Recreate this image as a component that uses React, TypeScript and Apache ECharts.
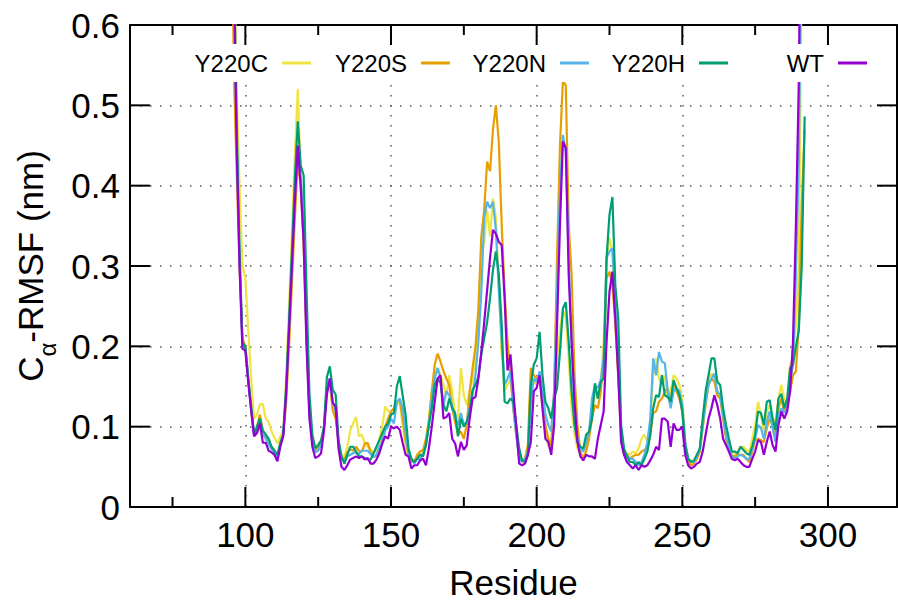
import React, { useEffect, useRef } from "react";
import * as echarts from "echarts";

// Residue numbers start here and advance by one per value
const residueStart = 95;

// C-alpha RMSF (nm) per residue, 95..292
const y220c = [
  0.95, 0.72, 0.52, 0.40, 0.30, 0.285, 0.22, 0.16, 0.11, 0.115, 0.128, 0.128, 0.11, 0.106, 0.094, 0.086, 0.079, 0.088, 0.095,
  0.16, 0.25, 0.34, 0.44, 0.52, 0.41, 0.33, 0.21, 0.12, 0.085,
  0.075, 0.078, 0.082, 0.10, 0.15, 0.155, 0.125, 0.12, 0.08, 0.065, 0.062, 0.075, 0.095, 0.104, 0.112, 0.088, 0.09, 0.079, 0.075, 0.072, 0.067, 0.071, 0.085, 0.10, 0.125, 0.12, 0.117, 0.115, 0.127, 0.131,
  0.102, 0.077, 0.063, 0.06, 0.056, 0.063, 0.065, 0.067, 0.081, 0.11, 0.144, 0.164, 0.173, 0.164, 0.152, 0.139, 0.164, 0.144, 0.115, 0.11, 0.173, 0.139, 0.127, 0.144, 0.16, 0.185, 0.235, 0.31, 0.33, 0.37, 0.337, 0.384, 0.36, 0.28, 0.19, 0.144, 0.152, 0.16, 0.123, 0.09, 0.063, 0.056, 0.06, 0.077,
  0.164, 0.156, 0.152, 0.16, 0.123, 0.09, 0.077, 0.073, 0.123, 0.185, 0.22, 0.245, 0.235, 0.185, 0.123, 0.09, 0.073, 0.065, 0.06, 0.077, 0.09, 0.123, 0.144, 0.135, 0.152, 0.206, 0.31, 0.335, 0.318, 0.247, 0.185, 0.09, 0.069, 0.067, 0.065, 0.069, 0.067, 0.073, 0.085, 0.09, 0.081, 0.102, 0.164, 0.185, 0.16, 0.152, 0.164, 0.135, 0.144, 0.164, 0.16, 0.152,
  0.135, 0.081, 0.06, 0.058, 0.056, 0.06, 0.069, 0.106, 0.139, 0.16, 0.166, 0.16, 0.144, 0.139, 0.115, 0.09, 0.073, 0.065, 0.065, 0.069, 0.075, 0.075, 0.071, 0.069, 0.085, 0.102, 0.131, 0.115, 0.094, 0.119, 0.127, 0.11, 0.106, 0.135, 0.152, 0.135, 0.127, 0.177, 0.185, 0.227, 0.30, 0.68, 0.95,
];

const y220s = [
  0.9, 0.55, 0.42, 0.30, 0.21, 0.20, 0.16, 0.12, 0.09, 0.10, 0.115, 0.095, 0.09, 0.08, 0.075, 0.07, 0.063, 0.078, 0.09,
  0.13, 0.20, 0.28, 0.36, 0.43, 0.40, 0.33, 0.21, 0.115, 0.08,
  0.07, 0.073, 0.08, 0.10, 0.15, 0.155, 0.12, 0.11, 0.08, 0.062, 0.058, 0.068, 0.072, 0.07, 0.075, 0.07, 0.069, 0.079, 0.08, 0.068, 0.062, 0.064, 0.07, 0.085, 0.10, 0.11, 0.119, 0.123, 0.131, 0.133,
  0.11, 0.085, 0.065, 0.056, 0.056, 0.065, 0.069, 0.071, 0.085, 0.106, 0.144, 0.177, 0.191, 0.181, 0.169, 0.16, 0.152, 0.123, 0.106, 0.09, 0.094, 0.085, 0.102, 0.144, 0.173, 0.20, 0.247, 0.337, 0.37, 0.43, 0.418, 0.47, 0.50, 0.455, 0.351, 0.268, 0.206, 0.164, 0.123, 0.09, 0.065, 0.058, 0.06, 0.077,
  0.173, 0.164, 0.16, 0.16, 0.131, 0.102, 0.085, 0.077, 0.144, 0.31, 0.45, 0.53, 0.525, 0.351, 0.289, 0.164, 0.102, 0.069, 0.06, 0.069, 0.085, 0.11, 0.127, 0.123, 0.144, 0.185, 0.285, 0.293, 0.276, 0.227, 0.164, 0.085, 0.065, 0.065, 0.06, 0.063, 0.065, 0.065, 0.069, 0.071, 0.073, 0.09, 0.117, 0.119, 0.131, 0.135, 0.144, 0.148, 0.127, 0.156, 0.144, 0.135,
  0.119, 0.073, 0.056, 0.052, 0.054, 0.06, 0.069, 0.098, 0.127, 0.152, 0.16, 0.156, 0.139, 0.135, 0.11, 0.085, 0.071, 0.063, 0.063, 0.065, 0.065, 0.065, 0.06, 0.056, 0.069, 0.083, 0.085, 0.083, 0.081, 0.098, 0.11, 0.102, 0.09, 0.123, 0.135, 0.119, 0.131, 0.144, 0.164, 0.169, 0.227, 0.376, 0.47,
];

const y220n = [
  0.95, 0.66, 0.46, 0.31, 0.20, 0.198, 0.158, 0.122, 0.09, 0.095, 0.108, 0.09, 0.085, 0.078, 0.072, 0.068, 0.062, 0.077, 0.09,
  0.145, 0.22, 0.31, 0.39, 0.44, 0.41, 0.35, 0.22, 0.12, 0.08,
  0.068, 0.07, 0.078, 0.10, 0.15, 0.16, 0.13, 0.12, 0.078, 0.06, 0.056, 0.063, 0.065, 0.067, 0.068, 0.066, 0.07, 0.07, 0.07, 0.066, 0.062, 0.065, 0.075, 0.081, 0.095, 0.10, 0.11, 0.104, 0.131, 0.135,
  0.123, 0.094, 0.067, 0.06, 0.054, 0.06, 0.06, 0.065, 0.077, 0.102, 0.135, 0.16, 0.173, 0.16, 0.127, 0.144, 0.139, 0.125, 0.112, 0.102, 0.117, 0.102, 0.106, 0.123, 0.139, 0.164, 0.206, 0.268, 0.36, 0.38, 0.372, 0.38, 0.345, 0.27, 0.206, 0.152, 0.16, 0.169, 0.123, 0.09, 0.06, 0.056, 0.06, 0.069,
  0.131, 0.16, 0.156, 0.169, 0.144, 0.115, 0.102, 0.094, 0.144, 0.268, 0.393, 0.463, 0.442, 0.31, 0.206, 0.123, 0.085, 0.073, 0.069, 0.081, 0.094, 0.135, 0.152, 0.148, 0.158, 0.185, 0.31, 0.318, 0.322, 0.247, 0.185, 0.094, 0.069, 0.065, 0.06, 0.06, 0.056, 0.052, 0.056, 0.065, 0.081, 0.11, 0.185, 0.164, 0.193, 0.181, 0.179, 0.144, 0.123, 0.144, 0.148, 0.144,
  0.127, 0.081, 0.06, 0.056, 0.056, 0.063, 0.071, 0.102, 0.131, 0.152, 0.16, 0.166, 0.144, 0.139, 0.115, 0.09, 0.075, 0.063, 0.06, 0.063, 0.065, 0.063, 0.06, 0.06, 0.073, 0.085, 0.102, 0.098, 0.085, 0.106, 0.119, 0.098, 0.081, 0.115, 0.123, 0.117, 0.123, 0.156, 0.177, 0.289, 0.434, 0.75, 0.95,
];

const y220h = [
  0.95, 0.70, 0.48, 0.32, 0.205, 0.20, 0.16, 0.125, 0.09, 0.10, 0.11, 0.095, 0.09, 0.085, 0.075, 0.07, 0.065, 0.08, 0.09,
  0.15, 0.23, 0.32, 0.41, 0.48, 0.425, 0.413, 0.27, 0.14, 0.09,
  0.073, 0.077, 0.083, 0.10, 0.162, 0.175, 0.146, 0.14, 0.083, 0.063, 0.054, 0.065, 0.075, 0.075, 0.069, 0.063, 0.063, 0.061, 0.059, 0.059, 0.067, 0.075, 0.083, 0.092, 0.10, 0.104, 0.115, 0.117, 0.15, 0.163,
  0.139, 0.115, 0.073, 0.06, 0.056, 0.06, 0.065, 0.063, 0.077, 0.102, 0.123, 0.152, 0.16, 0.154, 0.127, 0.119, 0.135, 0.123, 0.117, 0.088, 0.11, 0.10, 0.106, 0.119, 0.146, 0.152, 0.162, 0.19, 0.21, 0.23, 0.26, 0.295, 0.318, 0.29, 0.227, 0.131, 0.129, 0.135, 0.131, 0.102, 0.073, 0.058, 0.056, 0.065,
  0.152, 0.177, 0.185, 0.218, 0.164, 0.131, 0.123, 0.11, 0.135, 0.148, 0.193, 0.247, 0.255, 0.206, 0.144, 0.102, 0.081, 0.075, 0.073, 0.09, 0.094, 0.11, 0.154, 0.135, 0.156, 0.16, 0.31, 0.364, 0.386, 0.276, 0.235, 0.102, 0.073, 0.063, 0.056, 0.056, 0.052, 0.056, 0.052, 0.06, 0.069, 0.09, 0.123, 0.139, 0.137, 0.164, 0.139, 0.137, 0.131, 0.158, 0.148, 0.139,
  0.119, 0.077, 0.06, 0.056, 0.058, 0.065, 0.073, 0.11, 0.144, 0.164, 0.185, 0.185, 0.156, 0.152, 0.123, 0.102, 0.085, 0.069, 0.069, 0.067, 0.075, 0.071, 0.067, 0.065, 0.075, 0.09, 0.119, 0.117, 0.102, 0.131, 0.133, 0.11, 0.096, 0.135, 0.141, 0.123, 0.135, 0.173, 0.177, 0.2, 0.22, 0.3, 0.486,
];

const wt = [
  0.95, 0.68, 0.45, 0.30, 0.197, 0.195, 0.155, 0.12, 0.088, 0.092, 0.104, 0.08, 0.08, 0.07, 0.068, 0.065, 0.057, 0.075, 0.088,
  0.14, 0.22, 0.30, 0.38, 0.45, 0.40, 0.33, 0.20, 0.11, 0.075,
  0.061, 0.063, 0.067, 0.095, 0.14, 0.16, 0.13, 0.125, 0.072, 0.05, 0.046, 0.052, 0.059, 0.061, 0.063, 0.061, 0.063, 0.059, 0.061, 0.054, 0.054, 0.059, 0.067, 0.079, 0.088, 0.085, 0.10, 0.098, 0.10, 0.096,
  0.08, 0.065, 0.063, 0.048, 0.052, 0.052, 0.058, 0.06, 0.052, 0.073, 0.10, 0.131, 0.16, 0.164, 0.11, 0.112, 0.117, 0.085, 0.079, 0.063, 0.081, 0.071, 0.077, 0.11, 0.135, 0.137, 0.16, 0.193, 0.23, 0.27, 0.31, 0.345, 0.34, 0.33, 0.326, 0.26, 0.17, 0.19, 0.144, 0.10, 0.054, 0.052, 0.054, 0.065,
  0.081, 0.144, 0.148, 0.164, 0.123, 0.085, 0.081, 0.065, 0.102, 0.227, 0.351, 0.455, 0.447, 0.289, 0.206, 0.131, 0.081, 0.063, 0.058, 0.065, 0.063, 0.063, 0.06, 0.085, 0.102, 0.119, 0.206, 0.268, 0.293, 0.235, 0.164, 0.081, 0.065, 0.056, 0.052, 0.048, 0.052, 0.046, 0.052, 0.05, 0.052, 0.058, 0.065, 0.075, 0.071, 0.11, 0.11, 0.106, 0.075, 0.104, 0.096, 0.096,
  0.10, 0.065, 0.052, 0.048, 0.05, 0.054, 0.056, 0.069, 0.09, 0.11, 0.123, 0.139, 0.127, 0.11, 0.085, 0.077, 0.069, 0.06, 0.058, 0.06, 0.056, 0.052, 0.05, 0.05, 0.06, 0.069, 0.083, 0.081, 0.065, 0.081, 0.094, 0.077, 0.069, 0.102, 0.119, 0.11, 0.119, 0.144, 0.206, 0.351, 0.53, 0.9, 1.1,
];

const seriesNames = ["Y220C", "Y220S", "Y220N", "Y220H", "WT"];
const seriesValues = [y220c, y220s, y220n, y220h, wt];
const seriesColors = ["#f0e442", "#e69f00", "#56b4e9", "#009e73", "#9400d3"];

// axes
const xRange = [60.4, 323.7];
const xMajorStep = 50;
const xMajorTicks = [100, 150, 200, 250, 300];
const xMinorTicks = [75, 125, 175, 225, 275];
const yRange = [0, 0.6];
const yStep = 0.1;
const yTicks = [0.1, 0.2, 0.3, 0.4, 0.5];

const FONT = "'Liberation Sans', Arial, Helvetica, sans-serif";
const W = 898;
const H = 608;
const MAJOR_LEN = 20;
const MINOR_LEN = 10;

export default function App() {
  const ref = useRef<HTMLDivElement>(null);

  useEffect(() => {
    if (!ref.current) return;
    const chart = echarts.init(ref.current, undefined, { renderer: "svg", width: W, height: H });

    const black = "#000";
    const gridStyle = { color: "#555", width: 1.5, type: [1.5, 8.5] as number[] };
    const tickLine = { stroke: black, lineWidth: 2 };

    const baseX = { type: "value" as const, min: xRange[0], max: xRange[1], splitNumber: 5, gridIndex: 0 };
    const baseY = { type: "value" as const, min: yRange[0], max: yRange[1], interval: yStep, gridIndex: 0 };

    const iconRight = [311, 450, 589, 728, 867];
    const legends = seriesNames.map((name, i) => {
      const common: any = {
        data: [name],
        orient: "horizontal",
        align: "right",
        icon: "rect",
        itemWidth: 29,
        itemHeight: 3,
        selectedMode: false,
        textStyle: { fontFamily: FONT, fontSize: 24, color: black, lineHeight: 24, padding: [0, 9, 0, 0] },
      };
      if (i === 0) {
        return {
          ...common,
          z: 4,
          right: W - 880,
          top: 44,
          backgroundColor: "#ffffff",
          padding: [7, 880 - iconRight[0], 7, 9],
        };
      }
      return { ...common, z: 5, right: W - iconRight[i], top: 51, padding: 0 };
    });

    // tick marks drawn through the axes' own coordinate mapping (mirrored, pointing inward)
    const xTickData = [
      ...xMajorTicks.map((v) => [v, yRange[0], MAJOR_LEN]),
      ...xMinorTicks.map((v) => [v, yRange[0], MINOR_LEN]),
    ];
    const yTickData = yTicks.map((v) => [xRange[0], v, MAJOR_LEN]);

    const xTickSeries = {
      type: "custom",
      name: "xticks",
      silent: true,
      clip: false,
      z: 6,
      data: xTickData,
      renderItem: (_p: any, api: any) => {
        const v = api.value(0);
        const len = api.value(2);
        const b = api.coord([v, yRange[0]]);
        const t = api.coord([v, yRange[1]]);
        return {
          type: "group",
          children: [
            { type: "line", shape: { x1: b[0], y1: b[1], x2: b[0], y2: b[1] - len }, style: tickLine },
            { type: "line", shape: { x1: t[0], y1: t[1], x2: t[0], y2: t[1] + len }, style: tickLine },
          ],
        };
      },
    };
    const yTickSeries = {
      type: "custom",
      name: "yticks",
      silent: true,
      clip: false,
      z: 6,
      data: yTickData,
      renderItem: (_p: any, api: any) => {
        const v = api.value(1);
        const len = api.value(2);
        const l = api.coord([xRange[0], v]);
        const r = api.coord([xRange[1], v]);
        return {
          type: "group",
          children: [
            { type: "line", shape: { x1: l[0], y1: l[1], x2: l[0] + len, y2: l[1] }, style: tickLine },
            { type: "line", shape: { x1: r[0], y1: r[1], x2: r[0] - len, y2: r[1] }, style: tickLine },
          ],
        };
      },
    };

    const option: any = {
      animation: false,
      backgroundColor: "#ffffff",
      grid: { left: 130, top: 25, right: 1, bottom: 101, containLabel: false },
      legend: legends,
      xAxis: [
        {
          ...baseX,
          position: "bottom",
          name: "Residue",
          nameLocation: "middle",
          nameGap: 58,
          nameTextStyle: { fontFamily: FONT, fontSize: 35, color: black },
          axisLine: { show: true, onZero: false, lineStyle: { color: black, width: 2 } },
          axisTick: { show: false },
          axisLabel: {
            show: true,
            margin: 10,
            fontFamily: FONT,
            fontSize: 35,
            color: black,
            showMinLabel: false,
            showMaxLabel: false,
            formatter: (v: number) => (v % xMajorStep === 0 ? String(v) : ""),
          },
          splitLine: { show: true, lineStyle: gridStyle },
        },
        {
          ...baseX,
          position: "top",
          axisLine: { show: true, onZero: false, lineStyle: { color: black, width: 2 } },
          axisTick: { show: false },
          axisLabel: { show: false },
          splitLine: { show: false },
        },
      ],
      yAxis: [
        {
          ...baseY,
          position: "left",
          name: "{m|C}{s|α}{m|-RMSF (nm)}",
          nameLocation: "middle",
          nameGap: 82,
          nameTextStyle: {
            fontFamily: FONT,
            fontSize: 35,
            color: black,
            rich: {
              m: { fontFamily: FONT, fontSize: 35, lineHeight: 35, color: black },
              s: { fontFamily: FONT, fontSize: 24, lineHeight: 24, color: black, verticalAlign: "top", padding: [22, 0, 0, 0] },
            },
          },
          axisLine: { show: true, onZero: false, lineStyle: { color: black, width: 2 } },
          axisTick: { show: false },
          axisLabel: { show: true, margin: 10, fontFamily: FONT, fontSize: 35, color: black },
          splitLine: { show: true, lineStyle: gridStyle },
        },
        {
          ...baseY,
          position: "right",
          axisLine: { show: true, onZero: false, lineStyle: { color: black, width: 2 } },
          axisTick: { show: false },
          axisLabel: { show: false },
          splitLine: { show: false },
        },
      ],
      series: [
        ...seriesNames.map((name, i) => ({
          name,
          type: "line",
          xAxisIndex: 0,
          yAxisIndex: 0,
          data: seriesValues[i].map((v, k) => [residueStart + k, v]),
          showSymbol: false,
          symbol: "none",
          clip: true,
          color: seriesColors[i],
          lineStyle: { color: seriesColors[i], width: 2.2 },
          itemStyle: { color: seriesColors[i] },
          emphasis: { disabled: true },
          z: 2,
        })),
        xTickSeries,
        yTickSeries,
      ],
    };

    chart.setOption(option);
    return () => {
      chart.dispose();
    };
  }, []);

  return (
    <div
      ref={ref}
      style={{ position: "absolute", left: 0, top: 0, width: W, height: H, background: "#fff" }}
    />
  );
}
